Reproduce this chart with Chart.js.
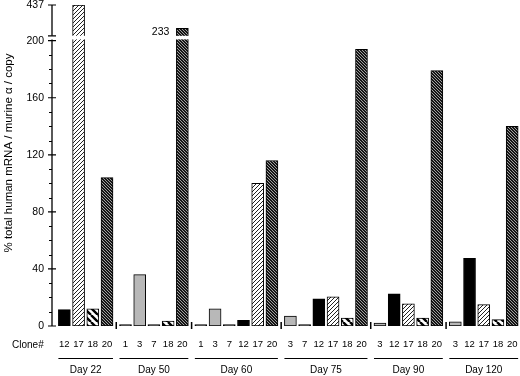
<!DOCTYPE html>
<html>
<head>
<meta charset="utf-8">
<script src="https://cdn.jsdelivr.net/npm/chart.js@4"></script>
<style>
  html, body { margin: 0; padding: 0; background: #fff; }
  #wrap { width: 520px; height: 376px; }
</style>
</head>
<body>
<div id="wrap"><canvas id="chart"></canvas></div>
<script>
const days = ["Day 22", "Day 50", "Day 60", "Day 75", "Day 90", "Day 120"]
const clonesByDay = [
  [12, 17, 18, 20],
  [1, 3, 7, 18, 20],
  [1, 3, 7, 12, 17, 20],
  [3, 7, 12, 17, 18, 20],
  [3, 12, 17, 18, 20],
  [3, 12, 17, 18, 20]
]
const valuesByDay = [
  [11.5, 437, 12, 104],
  [1, 36, 1, 3.5, 233],
  [1, 12, 1, 4, 100, 116],
  [7, 1, 19, 20.5, 5.5, 194],
  [2, 22.5, 15.5, 5.5, 179],
  [3, 47.5, 15, 4.5, 140]
]
const yTickValues = [0, 40, 80, 120, 160, 200, 437]
const yTitle = "% total human mRNA / murine \u03b1 / copy"

// broken axis: 0-200 linear, then 200-437 squeezed into the top strip
const breakAt = 200
const topValue = 437
const topDisp = 225
const upperStart = 206
const yDisp = v => v <= breakAt ? v : upperStart + (v - breakAt) * (topDisp - upperStart) / (topValue - breakAt)

function hatch(bg, fg, p, lw, up) {
  const c = document.createElement('canvas')
  c.width = c.height = p
  const g = c.getContext('2d')
  g.fillStyle = bg
  g.fillRect(0, 0, p, p)
  g.strokeStyle = fg
  g.lineWidth = lw
  g.beginPath()
  for (const o of [-p, 0, p]) {
    if (up) { g.moveTo(o, p); g.lineTo(o + p, 0) }
    else { g.moveTo(o, 0); g.lineTo(o + p, p) }
  }
  g.stroke()
  return g.createPattern(c, 'repeat')
}

const cloneFill = {
  1: '#222222',
  3: '#b8b8b8',
  7: '#222222',
  12: '#000000',
  17: hatch('#ffffff', '#222222', 4, 1, true),
  18: hatch('#ffffff', '#000000', 7, 2.4, false),
  20: hatch('#151515', '#b0b0b0', 3, 0.9, false)
}

// flatten groups, leave a small gap between days
const groupGap = 0.3
let xs = [], vals = [], labels = [], fills = [], groups = []
let n = 0
days.forEach((d, g) => {
  const first = xs.length
  clonesByDay[g].forEach((c, k) => {
    xs.push(n + groupGap * g)
    vals.push(valuesByDay[g][k])
    labels.push(String(c))
    fills.push(cloneFill[c])
    n++
  })
  groups.push({ name: d, first: first, last: xs.length - 1 })
})

Chart.defaults.font.family = "'Liberation Sans', Arial, sans-serif"
Chart.defaults.color = '#000'

const noPad = s => { s.paddingLeft = 0; s.paddingRight = 0; s.paddingTop = 0; s.paddingBottom = 0 }

const extras = {
  id: 'extras',
  afterDatasetsDraw(chart) {
    const ctx = chart.ctx
    const xS = chart.scales.x, yS = chart.scales.y
    const area = chart.chartArea
    const ax = area.left
    ctx.save()
    // white cut through the bars at the break
    const b1 = yS.getPixelForValue(breakAt + 0.9)
    const b2 = yS.getPixelForValue(breakAt + 3.4)
    ctx.fillStyle = '#fff'
    ctx.fillRect(ax - 6, b2, area.right - ax + 6, b1 - b2)
    ctx.fillStyle = '#000'

    // y axis line in two pieces
    ctx.strokeStyle = '#000'
    ctx.lineWidth = 1.3
    ctx.beginPath()
    ctx.moveTo(ax, yS.getPixelForValue(0))
    ctx.lineTo(ax, b1)
    ctx.moveTo(ax, b2)
    ctx.lineTo(ax, yS.getPixelForValue(topDisp))
    ctx.stroke()
    // minor ticks
    ctx.lineWidth = 1
    ctx.beginPath()
    for (let v = 10; v < breakAt; v += 10) {
      if (v % 40 === 0) continue
      const y = Math.round(yS.getPixelForValue(v)) + 0.5
      ctx.moveTo(ax - 3, y); ctx.lineTo(ax, y)
    }
    ctx.stroke()
    // major ticks, crossing the axis
    ctx.lineWidth = 1.2
    ctx.beginPath()
    yTickValues.forEach(v => {
      const y = yS.getPixelForValue(yDisp(v))
      ctx.moveTo(ax - 4, y); ctx.lineTo(ax + 4, y)
    })
    ctx.moveTo(ax - 4, b2); ctx.lineTo(ax + 4, b2)
    ctx.stroke()

    // values above the break get a number next to the bar
    ctx.font = "10.5px 'Liberation Sans', Arial, sans-serif"
    ctx.textAlign = 'right'
    ctx.textBaseline = 'middle'
    vals.forEach((v, i) => {
      if (v > breakAt && v < topValue) {
        const x = xS.getPixelForValue(xs[i]) - 13
        const y = (yS.getPixelForValue(yDisp(v)) + b2) / 2
        ctx.fillText(String(v), x, y)
      }
    })

    // group separators on the baseline
    const y0 = yS.getPixelForValue(0)
    ctx.lineWidth = 1.5
    ctx.beginPath()
    groups.forEach((g, k) => {
      const xa = xs[g.last]
      const xb = k < groups.length - 1 ? xs[groups[k + 1].first] : xa + 1 + groupGap
      const px = xS.getPixelForValue((xa + xb) / 2)
      ctx.moveTo(px, y0 - 4); ctx.lineTo(px, y0 + 3)
    })
    ctx.stroke()

    // day lines and labels
    ctx.lineWidth = 1
    ctx.textAlign = 'center'
    ctx.font = "10px 'Liberation Sans', Arial, sans-serif"
    groups.forEach(g => {
      const l = xS.getPixelForValue(xs[g.first] - 0.42)
      const r = xS.getPixelForValue(xs[g.last] + 0.42)
      ctx.beginPath()
      ctx.moveTo(l, 358.5); ctx.lineTo(r, 358.5)
      ctx.stroke()
      ctx.fillText(g.name, (l + r) / 2, 370)
    })
    ctx.textAlign = 'left'
    ctx.fillText('Clone#', 12, 345)

    // rotated y title
    ctx.font = "11.5px 'Liberation Sans', Arial, sans-serif"
    ctx.textAlign = 'center'
    ctx.translate(9, 153)
    ctx.rotate(-Math.PI / 2)
    ctx.fillText(yTitle, 0, 0)
    ctx.restore()
  }
}

new Chart(document.getElementById('chart'), {
  type: 'bar',
  data: {
    datasets: [{
      data: xs.map((x, i) => ({ x: x, y: yDisp(vals[i]) })),
      backgroundColor: fills,
      borderColor: '#000',
      borderWidth: 1,
      borderSkipped: false,
      barThickness: 12
    }]
  },
  options: {
    responsive: true,
    maintainAspectRatio: false,
    animation: false,
    layout: { padding: { top: 5, right: 0, bottom: 0, left: 0 } },
    plugins: { legend: { display: false }, tooltip: { enabled: false } },
    scales: {
      x: {
        type: 'linear',
        offset: false,
        min: -0.87,
        max: xs[xs.length - 1] + 0.55,
        grid: { display: false, drawTicks: false },
        border: { display: false },
        afterBuildTicks: s => { s.ticks = xs.map(v => ({ value: v })) },
        afterFit: s => { s.height = 50; noPad(s) },
        ticks: {
          autoSkip: false,
          maxRotation: 0,
          padding: 13,
          font: { size: 9.5 },
          callback: (v, i) => labels[i]
        }
      },
      y: {
        min: 0,
        max: topDisp,
        grid: { display: false, drawTicks: false },
        border: { display: false },
        afterBuildTicks: s => { s.ticks = yTickValues.map(v => ({ value: yDisp(v) })) },
        afterFit: s => { s.width = 52; noPad(s) },
        ticks: {
          padding: 8,
          font: { size: 10.5 },
          callback: (v, i) => String(yTickValues[i])
        }
      }
    }
  },
  plugins: [extras]
})
</script>
</body>
</html>
